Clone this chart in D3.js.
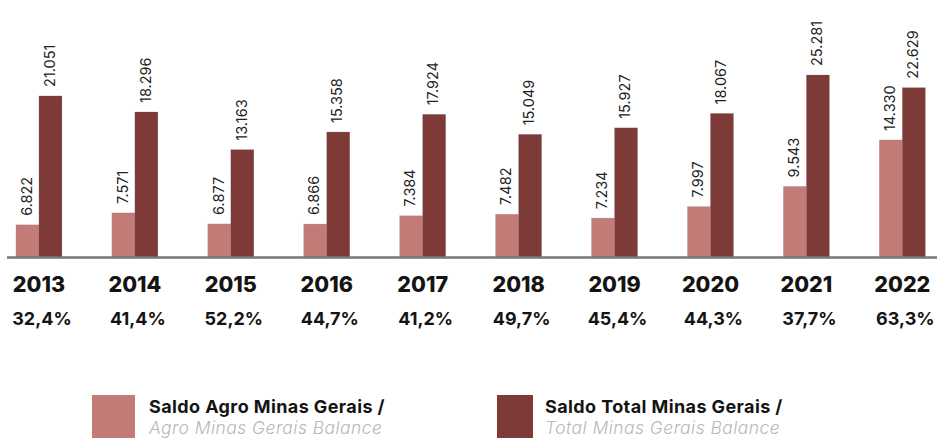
<!DOCTYPE html>
<html>
<head>
<meta charset="utf-8">
<script src="https://cdn.jsdelivr.net/npm/d3@7"></script>
<style>
  html, body { margin: 0; padding: 0; background: #fff; }
  svg { display: block; font-family: Inter, "Noto Sans", sans-serif; }
</style>
</head>
<body>
<svg id="chart" width="937" height="438"></svg>
<script>
const years = ["2013","2014","2015","2016","2017","2018","2019","2020","2021","2022"];
const agro = [6822, 7571, 6877, 6866, 7384, 7482, 7234, 7997, 9543, 14330];
const total = [21051, 18296, 13163, 15358, 17924, 15049, 15927, 18067, 25281, 22629];
const shares = ["32,4%","41,4%","52,2%","44,7%","41,2%","49,7%","45,4%","44,3%","37,7%","63,3%"];
const seriesNames = ["Saldo Agro Minas Gerais /", "Saldo Total Minas Gerais /"];
const seriesNamesEn = ["Agro Minas Gerais Balance", "Total Minas Gerais Balance"];

const colors = ["#c27b77", "#7e3a37"];
const fmt = v => d3.format(",")(v).replace(/,/g, ".");

const svg = d3.select("#chart");
const baseline = 257;
const barW = 23;

const x = d3.scaleBand().domain(years).range([-9, 950.3]).padding(0);
// the source chart's bar heights follow a log-like scale
const y = d3.scaleLog().domain([5150, d3.max(total)]).range([baseline, baseline - 182]);

const series = [agro, total];
series.forEach((vals, s) => {
  const g = svg.append("g");
  const cx = (d, i) => x(years[i]) + x.bandwidth() / 2 + (s === 0 ? -barW / 2 : barW / 2);
  g.selectAll("rect").data(vals).join("rect")
    .attr("x", (d, i) => cx(d, i) - barW / 2)
    .attr("y", d => y(d))
    .attr("width", barW)
    .attr("height", d => baseline - y(d))
    .attr("fill", colors[s])
    .attr("stroke", "rgba(120,120,120,0.35)")
    .attr("stroke-width", 0.6);
  g.selectAll("text").data(vals).join("text")
    .attr("transform", (d, i) => `translate(${cx(d, i) - 1},${y(d) - 9}) rotate(-90)`)
    .attr("dy", "0.36em")
    .attr("text-anchor", "start")
    .attr("font-size", 14.5)
    .attr("fill", "#222")
    .text(d => fmt(d));
});

// baseline
svg.append("line")
  .attr("x1", 7).attr("x2", 937)
  .attr("y1", baseline + 0.5).attr("y2", baseline + 0.5)
  .attr("stroke", "#777").attr("stroke-width", 2.6);

// year labels
svg.append("g").selectAll("text").data(years).join("text")
  .attr("x", d => x(d) + x.bandwidth() / 2)
  .attr("y", 292)
  .attr("text-anchor", "middle")
  .attr("font-size", 21.5)
  .attr("font-weight", 800)
  .attr("fill", "#141414")
  .text(d => d);

// share labels
svg.append("g").selectAll("text").data(shares).join("text")
  .attr("x", (d, i) => x(years[i]) + x.bandwidth() / 2 + 3)
  .attr("y", 325)
  .attr("text-anchor", "middle")
  .attr("font-size", 18)
  .attr("font-weight", 700)
  .attr("fill", "#141414")
  .text(d => d);

// legend
const legendPos = [
  { sx: 92, sw: 43, tx: 149 },
  { sx: 497, sw: 36, tx: 545 }
];
legendPos.forEach((p, i) => {
  svg.append("rect").attr("x", p.sx).attr("y", 395).attr("width", p.sw).attr("height", 45)
    .attr("fill", colors[i]);
  svg.append("text").attr("x", p.tx).attr("y", 412.5)
    .attr("font-size", 18).attr("font-weight", 700).attr("fill", "#141414")
    .attr("letter-spacing", 0.4)
    .text(seriesNames[i]);
  svg.append("text").attr("x", p.tx).attr("y", 434)
    .attr("font-size", 17.4).attr("font-style", "italic").attr("font-weight", 300).attr("fill", "#b8b8b8")
    .attr("letter-spacing", 0.5)
    .text(seriesNamesEn[i]);
});
</script>
</body>
</html>
